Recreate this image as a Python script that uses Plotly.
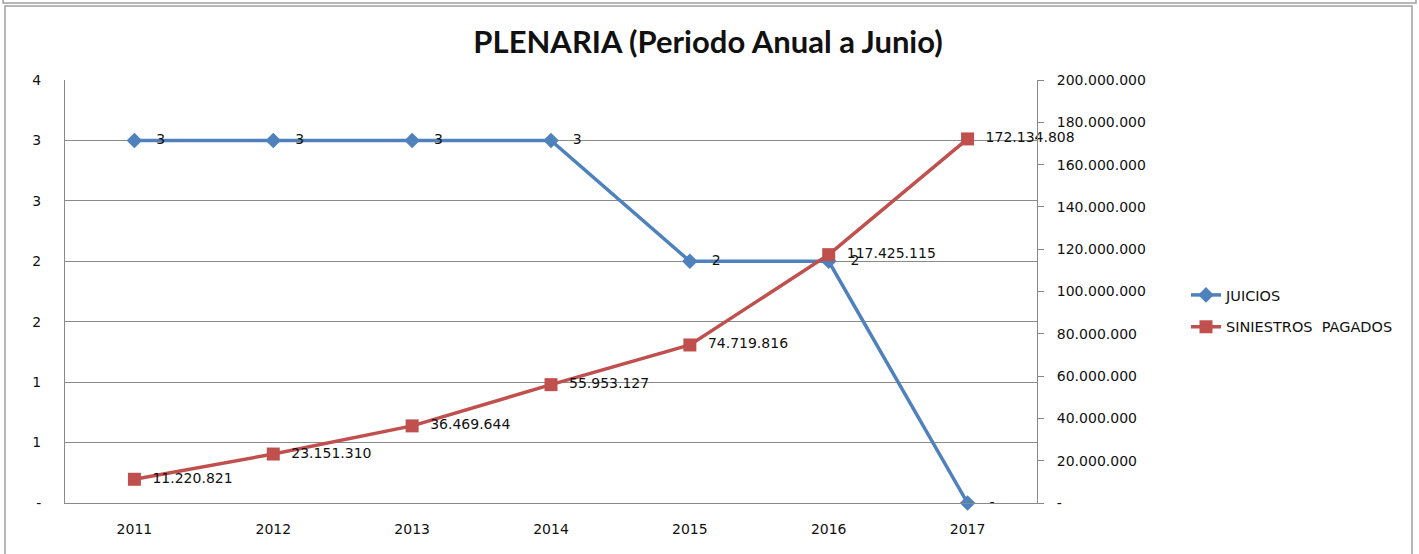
import plotly.graph_objects as go

years = ["2011", "2012", "2013", "2014", "2015", "2016", "2017"]
juicios = [3, 3, 3, 3, 2, 2, 0]
juicios_labels = ["3", "3", "3", "3", "2", "2", "-"]
siniestros = [11220821, 23151310, 36469644, 55953127, 74719816, 117425115, 172134808]
left_tickvals = [0, 0.5, 1, 1.5, 2, 2.5, 3, 3.5]
left_ticktext = ["-", "1", "1", "2", "2", "3", "3", "4"]
right_tickvals = [0, 20e6, 40e6, 60e6, 80e6, 100e6, 120e6, 140e6, 160e6, 180e6, 200e6]
right_ticktext = ["-", "20.000.000", "40.000.000", "60.000.000", "80.000.000", "100.000.000",
                  "120.000.000", "140.000.000", "160.000.000", "180.000.000", "200.000.000"]


def fmt(v):
    return f"{v:,}".replace(",", ".")


W, H = 1419, 554
L, T = 65, 80
PW, PH = 972, 423
R, B = W - L - PW, H - T - PH


def px(x):  # pixel -> paper x
    return (x - L) / PW


def py(y):  # pixel -> paper y
    return (H - B - y) / PH


BLUE = "#4F81BD"
RED = "#C0504D"
FONT = "DejaVu Sans"
FS = 14

fig = go.Figure()
fig.add_trace(go.Scatter(
    x=years, y=juicios, name="JUICIOS", mode="lines+markers+text",
    legendgroup="a",
    line=dict(color=BLUE, width=3.5),
    marker=dict(symbol="diamond", size=12, color=BLUE),
    text=["   " + t for t in juicios_labels], textposition="middle right",
    textfont=dict(family=FONT, size=FS, color="#111"),
    cliponaxis=False,
))
fig.add_trace(go.Scatter(
    x=years, y=siniestros, name="SINIESTROS  PAGADOS", mode="lines+markers+text",
    legendgroup="b",
    yaxis="y2",
    line=dict(color=RED, width=3.5),
    marker=dict(symbol="square", size=13, color=RED),
    text=["  " + fmt(v) for v in siniestros], textposition="middle right",
    textfont=dict(family=FONT, size=FS, color="#111"),
    cliponaxis=False,
))

fig.update_layout(
    width=W, height=H,
    margin=dict(l=L, r=R, t=T, b=B, autoexpand=False),
    paper_bgcolor="white", plot_bgcolor="white",
    title=dict(text="<b>PLENARIA (Periodo Anual a Junio)</b>",
               x=708 / W, xanchor="center",
               y=1 - 42 / H, yanchor="middle",
               font=dict(family="Lato", size=31, color="#111")),
    font=dict(family=FONT, size=FS, color="#111"),
    showlegend=True,
    legend=dict(x=px(1186), y=py(279), xanchor="left", yanchor="top",
                font=dict(family=FONT, size=14.5, color="#111"),
                bgcolor="rgba(0,0,0,0)", traceorder="grouped", tracegroupgap=10,
                itemwidth=30),
    xaxis=dict(type="category", range=[-0.5, 6.5], showline=True, linecolor="#888",
               linewidth=1, showgrid=False, ticks="", ticklabelstandoff=13,
               tickfont=dict(family=FONT, size=FS)),
    yaxis=dict(range=[0, 3.5], tickvals=left_tickvals, ticktext=left_ticktext,
               showgrid=True, gridcolor="#8a8a8a", gridwidth=1, showline=True,
               linecolor="#888", linewidth=1, ticks="", ticklabelstandoff=20,
               zeroline=False, tickfont=dict(family=FONT, size=FS)),
    yaxis2=dict(range=[0, 200e6], tickvals=right_tickvals, ticktext=right_ticktext,
                overlaying="y", side="right", showgrid=False, showline=True,
                linecolor="#888", linewidth=1, ticks="outside", ticklen=6,
                tickcolor="#888", zeroline=False, ticklabelstandoff=10,
                tickfont=dict(family=FONT, size=FS)),
)

# outer frames (chart borders)
fig.add_shape(type="rect", xref="paper", yref="paper",
              x0=px(5), x1=px(1412), y0=py(600), y1=py(6),
              line=dict(color="#a0a0a0", width=1.5), layer="below")
fig.add_shape(type="rect", xref="paper", yref="paper",
              x0=px(3), x1=px(1416), y0=py(3), y1=py(-30),
              line=dict(color="#a0a0a0", width=1.5), layer="below")

fig.write_html("out.html",
               config={"displayModeBar": False},
               post_script="document.body.style.margin='0';document.body.style.overflow='hidden';")
